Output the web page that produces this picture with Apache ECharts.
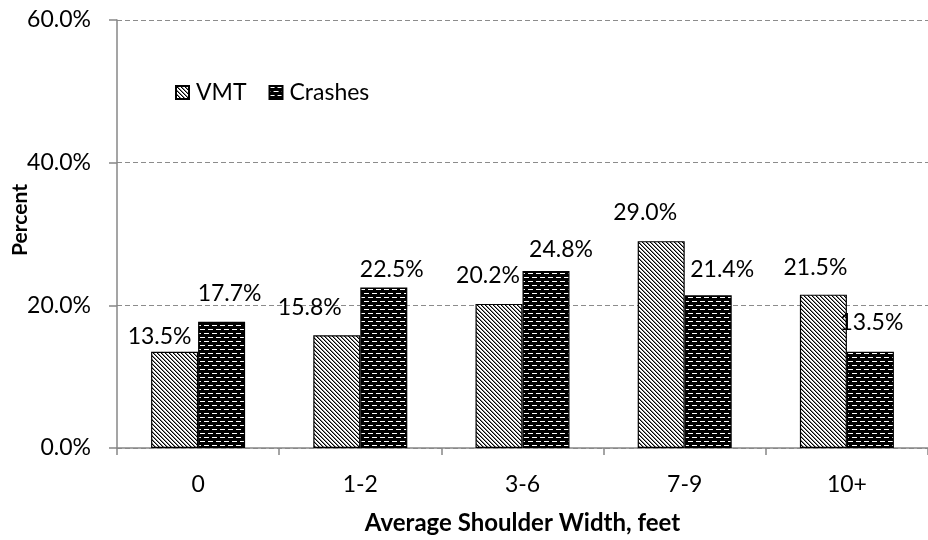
<!DOCTYPE html>
<html>
<head>
<meta charset="utf-8">
<script src="https://cdn.jsdelivr.net/npm/echarts@6/dist/echarts.min.js"></script>
<style>
  html, body { margin: 0; padding: 0; background: #fff; }
  #chart { width: 928px; height: 540px; }
</style>
</head>
<body>
<div id="chart"></div>
<script>
const categories = ['0', '1-2', '3-6', '7-9', '10+']
const vmt = [13.5, 15.8, 20.2, 29.0, 21.5]
const crashes = [17.7, 22.5, 24.8, 21.4, 13.5]

// hand placed data labels, like the original (dx, dy from the bar top)
const vmtLabelShift = [[-15, 1], [-27, -11], [-11, -12], [-16, -12], [-8, -11]]
const crashLabelShift = [[8, -12], [8, -1], [15, -5], [14, -9], [1, -13]]

const font = 'Lato'

// white with black diagonal hatching
function hatchPattern() {
  const c = document.createElement('canvas')
  c.width = 4
  c.height = 4
  const ctx = c.getContext('2d')
  ctx.fillStyle = '#fff'
  ctx.fillRect(0, 0, 4, 4)
  ctx.fillStyle = '#000'
  for (let i = 0; i < 4; i++) ctx.fillRect(i, i, 1, 1)
  ctx.fillStyle = '#888'
  for (let i = 0; i < 4; i++) ctx.fillRect((i + 1) % 4, i, 1, 1)
  return c
}

// black with little white bricks
function brickPattern() {
  const c = document.createElement('canvas')
  c.width = 8
  c.height = 8
  const ctx = c.getContext('2d')
  ctx.fillStyle = '#000'
  ctx.fillRect(0, 0, 8, 8)
  ctx.fillStyle = '#fff'
  ctx.fillRect(0, 1, 5, 1)
  ctx.fillRect(4, 5, 4, 1)
  ctx.fillRect(0, 5, 1, 1)
  return c
}

function withLabels(values, shifts) {
  return values.map((v, i) => ({
    value: v,
    label: { offset: shifts[i] },
  }))
}

const chart = echarts.init(document.getElementById('chart'), null, { renderer: 'canvas' })

const labelStyle = {
  show: true,
  position: 'top',
  distance: 5,
  color: '#000',
  fontFamily: font,
  fontSize: 23,
  formatter: (p) => p.value.toFixed(1) + '%',
}

const option = {
  animation: false,
  backgroundColor: '#fff',
  textStyle: { fontFamily: font },
  grid: {
    left: 117,
    top: 20,
    width: 821,
    height: 431,
  },
  legend: {
    left: 170,
    top: 76,
    itemWidth: 13,
    itemHeight: 13,
    itemGap: 22,
    icon: 'rect',
    textStyle: { fontFamily: font, fontSize: 23, color: '#000', padding: [0, 0, 0, 2] },
    data: ['VMT', 'Crashes'],
  },
  graphic: [
    {
      type: 'text',
      x: 20,
      y: 220,
      rotation: Math.PI / 2,
      style: {
        text: 'Percent',
        fontFamily: font,
        fontWeight: 'bold',
        fontSize: 21,
        fill: '#000',
        textAlign: 'center',
        textVerticalAlign: 'middle',
      },
    },
  ],
  xAxis: {
    type: 'category',
    data: categories,
    name: 'Average Shoulder Width, feet',
    nameLocation: 'middle',
    nameGap: 63,
    nameTextStyle: { fontFamily: font, fontWeight: 'bold', fontSize: 24, color: '#000' },
    axisLine: { lineStyle: { color: '#878787', width: 1.5 } },
    axisTick: { show: true, length: 7, alignWithLabel: false, lineStyle: { color: '#878787', width: 1.5 } },
    axisLabel: { color: '#000', fontFamily: font, fontSize: 23, margin: 25 },
  },
  yAxis: {
    type: 'value',
    min: 0,
    max: 60,
    interval: 20,
    axisLine: { show: true, lineStyle: { color: '#878787', width: 1.5 } },
    axisTick: { show: true, length: 8, lineStyle: { color: '#878787', width: 1.5 } },
    axisLabel: {
      color: '#000',
      fontFamily: font,
      fontSize: 23,
      margin: 26,
      formatter: (v) => v.toFixed(1) + '%',
    },
    splitLine: { lineStyle: { color: '#8c8c8c', width: 1.2, type: [5, 3] } },
  },
  series: [
    {
      name: 'VMT',
      type: 'bar',
      barWidth: 47,
      barGap: '0%',
      itemStyle: {
        color: { image: hatchPattern(), repeat: 'repeat' },
        borderColor: '#000',
        borderWidth: 1.2,
      },
      label: labelStyle,
      data: withLabels(vmt, vmtLabelShift),
    },
    {
      name: 'Crashes',
      type: 'bar',
      barWidth: 47,
      barGap: '0%',
      itemStyle: {
        color: { image: brickPattern(), repeat: 'repeat' },
        borderColor: '#000',
        borderWidth: 1.2,
      },
      label: labelStyle,
      data: withLabels(crashes, crashLabelShift),
    },
  ],
}

chart.setOption(option)
</script>
</body>
</html>
